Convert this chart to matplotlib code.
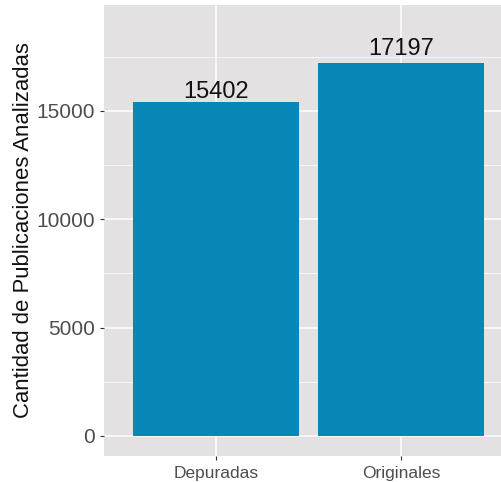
import matplotlib
matplotlib.use("Agg")
import matplotlib.pyplot as plt
from matplotlib.ticker import MultipleLocator

categories = ["Depuradas", "Originales"]
values = [15402, 17197]
yticks = [0, 5000, 10000, 15000]
label_gap = [210, 385]

plt.rcParams['font.family'] = ['Liberation Sans', 'DejaVu Sans']

fig = plt.figure(figsize=(5.02, 4.82), dpi=100)
ax = fig.add_axes([104/502, 26/482, 1 - 104/502, 451/482])
ax.set_facecolor("#E3E1E2")

x = [1, 2]
ax.bar(x, values, width=0.9, color="#0687B8", zorder=3)
for xi, v, g in zip(x, values, label_gap):
    ax.text(xi, v + g, f"{v}", ha="center", va="baseline", fontsize=17, color="#111111", zorder=4)

ax.set_xlim(0.395, 2.546)
ax.set_ylim(-923, 19890)
ax.set_xticks(x)
ax.set_xticklabels(categories, fontsize=12.5)
ax.set_yticks(yticks)
ax.yaxis.set_minor_locator(MultipleLocator(2500))
ax.grid(True, which="major", color="white", linewidth=1.1, zorder=0)
ax.grid(True, which="minor", axis="y", color="white", linewidth=0.5, zorder=0)
ax.tick_params(axis="both", which="major", length=3, color="#333333", labelcolor="#4D4D4D", width=0.8)
ax.tick_params(axis="y", which="major", labelsize=15)
ax.tick_params(axis="y", which="minor", length=0)
ax.tick_params(axis="x", pad=4)
for s in ax.spines.values():
    s.set_visible(False)
ax.set_ylabel("Cantidad de Publicaciones Analizadas", fontsize=15.9, color="#111111", labelpad=1.5)

fig.savefig("out.png", dpi=100)
